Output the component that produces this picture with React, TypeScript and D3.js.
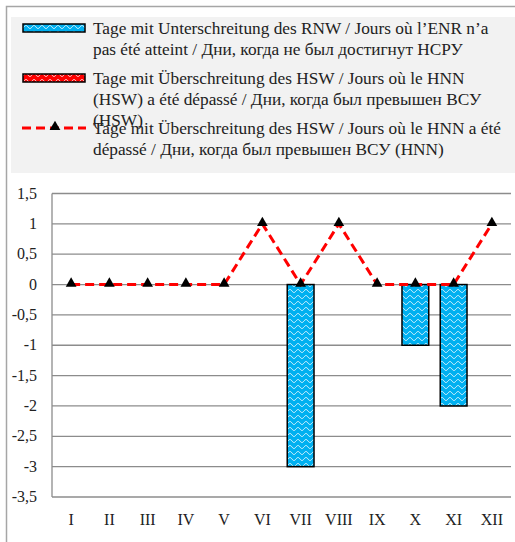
import React, { useRef, useEffect } from 'react';
import * as d3 from 'd3';

const months = ['I', 'II', 'III', 'IV', 'V', 'VI', 'VII', 'VIII', 'IX', 'X', 'XI', 'XII'];
const rnwDays = [0, 0, 0, 0, 0, 0, -3, 0, 0, -1, -2, 0];
const hswDays = [0, 0, 0, 0, 0, 0, 0, 0, 0, 0, 0, 0];
const hnnDays = [0, 0, 0, 0, 0, 1, 0, 1, 0, 0, 0, 1];
const yTicks = [1.5, 1, 0.5, 0, -0.5, -1, -1.5, -2, -2.5, -3, -3.5];

const legendItems = [
  { kind: 'blue', lines: ['Tage mit Unterschreitung des RNW / Jours où l’ENR n’a', 'pas été atteint / Дни, когда не был достигнут НСРУ'] },
  { kind: 'red', lines: ['Tage mit Überschreitung des HSW / Jours où le HNN', '(HSW) a été dépassé / Дни, когда был превышен ВСУ', '(HSW)'] },
  { kind: 'line', lines: ['Tage mit Überschreitung des HSW / Jours où le HNN a été', 'dépassé / Дни, когда был превышен ВСУ (HNN)'] },
];

const App: React.FC = () => {
  const ref = useRef<SVGSVGElement>(null);

  useEffect(() => {
    const svg = d3.select(ref.current);
    svg.selectAll('*').remove();
    const font = '"Liberation Serif", "Times New Roman", serif';

    const defs = svg.append('defs');
    const mkPattern = (id: string, color: string) => {
      const p = defs.append('pattern')
        .attr('id', id)
        .attr('patternUnits', 'userSpaceOnUse')
        .attr('width', 8).attr('height', 6);
      p.append('rect').attr('width', 8).attr('height', 6).attr('fill', color);
      p.append('path')
        .attr('d', 'M0,3 C1.5,1 2.5,1 4,3 C5.5,5 6.5,5 8,3')
        .attr('fill', 'none').attr('stroke', '#ffffff').attr('stroke-width', 1).attr('opacity', 0.85);
    };
    mkPattern('waveBlue', '#00b0f0');
    mkPattern('waveRed', '#ff0000');

    // outer frame
    svg.append('path').attr('d', 'M6.5,542 V6.5 H515').attr('fill', 'none').attr('stroke', '#a6a6a6').attr('stroke-width', 1.5);

    // legend
    svg.append('rect').attr('x', 11).attr('y', 17).attr('width', 504).attr('height', 156).attr('fill', '#f2f2f2');
    const itemY = [28, 78, 128];
    legendItems.forEach((item, i) => {
      const y0 = itemY[i];
      if (item.kind === 'line') {
        svg.append('line').attr('x1', 22).attr('x2', 86).attr('y1', y0).attr('y2', y0)
          .attr('stroke', '#ff0000').attr('stroke-width', 3).attr('stroke-dasharray', '9,5');
        svg.append('path').attr('d', d3.symbol().type(d3.symbolTriangle).size(50)())
          .attr('transform', `translate(55,${y0 - 1})`).attr('fill', '#000');
      } else {
        svg.append('rect').attr('x', 23).attr('y', y0 - 4).attr('width', 62).attr('height', 8)
          .attr('fill', item.kind === 'blue' ? 'url(#waveBlue)' : 'url(#waveRed)')
          .attr('stroke', '#000').attr('stroke-width', 1.5);
      }
      item.lines.forEach((ln, j) => {
        svg.append('text').attr('x', 93).attr('y', y0 + 6 + j * 21)
          .attr('font-family', font).attr('font-size', 17.3).attr('fill', '#222').text(ln);
      });
    });

    // plot
    const left = 52, right = 511, top = 193.5, bottom = 497;
    const x = d3.scaleBand().domain(months).range([left, right]).paddingInner(0.3).paddingOuter(0.15);
    const xc = (m: string) => (x(m) as number) + x.bandwidth() / 2;
    const y = d3.scaleLinear().domain([-3.5, 1.5]).range([bottom, top]);

    const grid = svg.append('g');
    yTicks.forEach(t => {
      grid.append('line').attr('x1', left).attr('x2', right).attr('y1', y(t)).attr('y2', y(t))
        .attr('stroke', '#8c8c8c').attr('stroke-width', 1.3);
      svg.append('text').attr('x', 37).attr('y', y(t) + 5).attr('text-anchor', 'end')
        .attr('font-family', font).attr('font-size', 16).attr('fill', '#222')
        .text(String(t).replace('.', ','));
    });
    grid.append('line').attr('x1', left).attr('x2', left).attr('y1', top).attr('y2', bottom)
      .attr('stroke', '#8c8c8c').attr('stroke-width', 1.3);

    // bars
    const bar = (vals: number[], fill: string) => svg.append('g').selectAll('rect')
      .data(vals.map((v, i) => ({ m: months[i], v })).filter(d => d.v !== 0))
      .enter().append('rect')
      .attr('x', d => x(d.m) as number)
      .attr('width', x.bandwidth())
      .attr('y', d => y(Math.max(0, d.v)))
      .attr('height', d => Math.abs(y(d.v) - y(0)))
      .attr('fill', fill).attr('stroke', '#000').attr('stroke-width', 1.5);
    bar(rnwDays, 'url(#waveBlue)');
    bar(hswDays, 'url(#waveRed)');

    // line
    const line = d3.line<number>().x((_, i) => xc(months[i])).y(d => y(d));
    svg.append('path').attr('d', line(hnnDays) as string).attr('fill', 'none')
      .attr('stroke', '#ff0000').attr('stroke-width', 3).attr('stroke-dasharray', '9,5');
    svg.append('g').selectAll('path').data(hnnDays).enter().append('path')
      .attr('d', d3.symbol().type(d3.symbolTriangle).size(50)() as string)
      .attr('transform', (d, i) => `translate(${xc(months[i])},${y(d) - 1})`)
      .attr('fill', '#000');

    // x labels
    months.forEach(m => {
      svg.append('text').attr('x', xc(m)).attr('y', 525).attr('text-anchor', 'middle')
        .attr('font-family', font).attr('font-size', 16).attr('fill', '#222').text(m);
    });
  }, []);

  return (
    <svg ref={ref} width={515} height={542}
      style={{ position: 'absolute', left: 0, top: 0, background: '#fff' }} />
  );
};

export default App;
